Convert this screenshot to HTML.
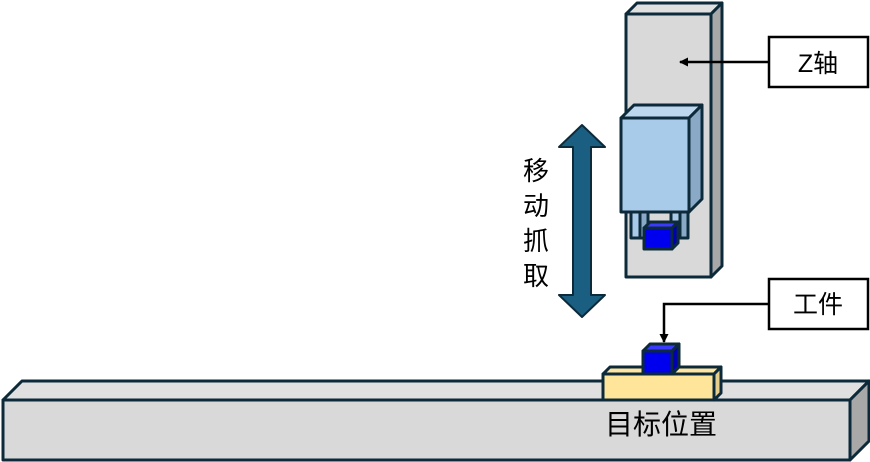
<!DOCTYPE html>
<html><head><meta charset="utf-8"><style>html,body{margin:0;padding:0;background:#fff}svg{display:block}text{font-family:"Liberation Sans","Noto Sans CJK SC",sans-serif;fill:#000}</style></head><body>
<svg width="870" height="462" viewBox="0 0 870 462" xmlns="http://www.w3.org/2000/svg">
<defs><marker id="a" markerWidth="9" markerHeight="9" refX="8" refY="4.5" orient="auto" markerUnits="userSpaceOnUse"><path d="M0,0L9,4.5L0,9z" fill="#000"/></marker></defs>
<g stroke="#0d2a3a" stroke-width="3" stroke-linejoin="round">
<polygon points="3,400 22,381 869,381 850,400" fill="#e0e0e0"/>
<polygon points="850,400 869,381 869,441 850,460" fill="#a8a8a8"/>
<rect x="3" y="400" width="847" height="60" fill="#d9d9d9"/>
<polygon points="626,14 637,3 722,3 711,14" fill="#e0e0e0"/>
<polygon points="711,14 722,3 722,266 711,277" fill="#a8a8a8"/>
<rect x="626" y="14" width="85" height="263" fill="#d9d9d9"/>
<rect x="631" y="212" width="9" height="26" fill="#a9c9e8"/>
<rect x="640" y="212" width="8" height="26" fill="#8aa9c6"/>
<rect x="671" y="212" width="9" height="26" fill="#a9c9e8"/>
<rect x="680" y="212" width="8" height="26" fill="#8aa9c6"/>
<polygon points="644,228 650,222 678,222 672,228" fill="#3a3aff"/>
<polygon points="672,228 678,222 678,243 672,249" fill="#0000b0"/>
<rect x="644" y="228" width="28" height="21" fill="#0000ee"/>
<polygon points="621,118 634,105 702,105 689,118" fill="#bdd7ee"/>
<polygon points="689,118 702,105 702,199 689,212" fill="#8aa9c6"/>
<rect x="621" y="118" width="68" height="94" fill="#a9cbea"/>
<polygon points="603,374 610,367 721,367 714,374" fill="#ffe5a0"/>
<polygon points="714,374 721,367 721,393 714,400" fill="#e6cf8c"/>
<rect x="603" y="374" width="111" height="26" fill="#ffe599"/>
<polygon points="643,351 650,344 679,344 672,351" fill="#3a3aff"/>
<polygon points="672,351 679,344 679,367 672,374" fill="#0000b0"/>
<rect x="643" y="351" width="29" height="23" fill="#0000ee"/>
<polygon points="582,125 605,147 591,147 591,295 605,295 582,317 559,295 573,295 573,147 559,147" fill="#1a5f82" stroke="#0d2a3a" stroke-width="2"/>
</g>
<rect x="769" y="37" width="99" height="50" fill="#fff" stroke="#000" stroke-width="2.5"/>
<text x="818" y="72" font-size="25" text-anchor="middle">Z轴</text>
<line x1="769" y1="62" x2="680" y2="62" stroke="#000" stroke-width="2.5" marker-end="url(#a)"/>
<rect x="769" y="279" width="99" height="50" fill="#fff" stroke="#000" stroke-width="2.5"/>
<text x="818" y="313" font-size="25" text-anchor="middle">工件</text>
<polyline points="769,304 664,304 664,342" fill="none" stroke="#000" stroke-width="2.5" marker-end="url(#a)"/>
<g font-size="26" text-anchor="middle">
<text x="536" y="180">移</text><text x="536" y="215">动</text><text x="536" y="250">抓</text><text x="536" y="285">取</text>
</g>
<text x="661" y="434" font-size="28" text-anchor="middle">目标位置</text>
</svg>
</body></html>
